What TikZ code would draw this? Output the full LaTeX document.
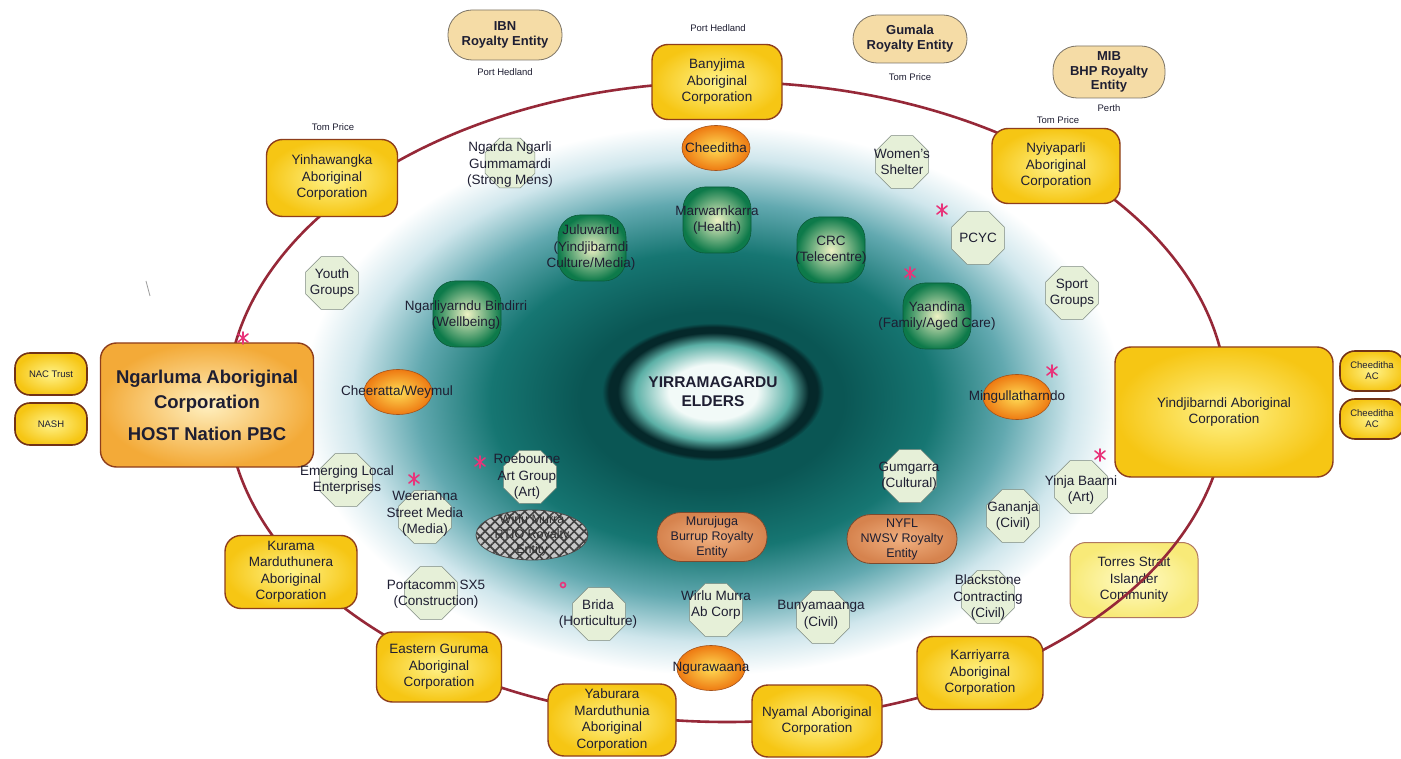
\documentclass[tikz,border=0pt]{standalone}
\usepackage{fontspec}
\setmainfont{Liberation Sans}
\usetikzlibrary{shapes.geometric,patterns.meta}
\definecolor{txt}{HTML}{1E1E32}
\definecolor{ringc}{HTML}{962838}
\definecolor{corpIn}{HTML}{FFF38A}
\definecolor{corpOut}{HTML}{F6C614}
\definecolor{corpBd}{HTML}{8E3E1C}
\definecolor{ngIn}{HTML}{FFF0C0}
\definecolor{ngOut}{HTML}{F3AA38}
\definecolor{torIn}{HTML}{FFFBC8}
\definecolor{torOut}{HTML}{F8EA78}
\definecolor{royFill}{HTML}{F5DCA6}
\definecolor{royBd}{HTML}{7C7466}
\definecolor{octFill}{HTML}{E6F0D8}
\definecolor{octBd}{HTML}{7E8A80}
\definecolor{grnIn}{HTML}{EEF2C4}
\definecolor{grnOut}{HTML}{0D7A4A}
\definecolor{grnBd}{HTML}{0B5B3A}
\definecolor{orIn}{HTML}{FFDC55}
\definecolor{orOut}{HTML}{EE7A12}
\definecolor{orBd}{HTML}{A4521A}
\definecolor{brIn}{HTML}{F0B080}
\definecolor{brOut}{HTML}{D6834E}
\definecolor{brBd}{HTML}{7C4A2E}
\definecolor{pinkm}{HTML}{E8347A}
\definecolor{bgA}{HTML}{0A5654}
\definecolor{bgB}{HTML}{167672}
\definecolor{bgC}{HTML}{62A9B0}
\definecolor{bgD}{HTML}{CFE6EC}
\definecolor{elA}{HTML}{F2FAF8}
\definecolor{elB}{HTML}{5BB0A6}
\definecolor{elC}{HTML}{05282A}
\definecolor{elD}{HTML}{0A5654}
\pgfdeclareradialshading{bgsh}{\pgfpoint{0bp}{0bp}}{color(0bp)=(bgA); color(8bp)=(bgA); color(13.5bp)=(bgB); color(18bp)=(bgC); color(22bp)=(bgD); color(25bp)=(white); color(50bp)=(white)}
\pgfdeclareradialshading{elsh}{\pgfpoint{0bp}{0bp}}{color(0bp)=(elA); color(10bp)=(elA); color(17.5bp)=(elB); color(21.5bp)=(elC); color(23.5bp)=(elC); color(25bp)=(elD); color(50bp)=(elD)}
\newcommand\fsz{\fontsize{13.5}{16.5}\selectfont}
\tikzset{
  base/.style={align=center, text=txt, font=\fsz, inner sep=1pt},
  corp/.style={base, rounded corners=16pt, draw=corpBd, line width=1.4pt, inner color=corpIn, outer color=corpOut},
  roy/.style={base, rounded corners=24pt, draw=royBd, line width=0.8pt, fill=royFill, font=\bfseries\fontsize{13}{15}\selectfont},
  smallpill/.style={base, rounded corners=15pt, draw=corpBd!80!black, line width=1.6pt, inner color=corpIn, outer color=corpOut, font=\fontsize{9.5}{11}\selectfont},
  octo/.style={regular polygon, regular polygon sides=8, draw=octBd, line width=0.6pt, fill=octFill, minimum size=57pt, inner sep=0pt},
  greenb/.style={rounded corners=22pt, draw=grnBd, line width=0.6pt, inner color=grnIn, outer color=grnOut, minimum width=68pt, minimum height=66pt, inner sep=0pt},
  oranb/.style={ellipse, draw=orBd, line width=0.6pt, inner color=orIn, outer color=orOut, minimum width=68pt, minimum height=45pt, inner sep=0pt},
  brownb/.style={base, rounded corners=24pt, draw=brBd, line width=0.8pt, inner color=brIn, outer color=brOut, minimum width=110pt, minimum height=49pt, font=\fontsize{12.5}{15}\selectfont},
  loc/.style={text=txt, font=\fontsize{9.5}{11}\selectfont, inner sep=0pt},
  scrib/.style={pinkm, line width=1.6pt, line cap=round},
}
\newcommand\scribble[1]{\draw[scrib] (#1) +(-5,-4) -- +(5,4) +(-5,4) -- +(5,-4) +(0,-6) -- +(0,6);}
\begin{document}
\begin{tikzpicture}[x=1pt,y=-1pt]
\useasboundingbox (0,0) rectangle (1401,759);
\fill[white] (0,0) rectangle (1401,759);
% background glow
\shade[shading=bgsh] (712,400) ellipse [x radius=410, y radius=275];
% Torres (under the ring)
\node[corp, inner color=torIn, outer color=torOut, draw=corpBd!70, line width=1pt, minimum width=128pt, minimum height=75pt] (torres) at (1134,580) {Torres Strait\\Islander\\Community};
% ring
\draw[ringc, line width=2.6pt] (727,402) ellipse [x radius=500, y radius=320];
% corporations
\node[corp, minimum width=130pt, minimum height=75pt] (banyjima) at (717,82) {Banyjima\\Aboriginal\\Corporation};
\node[corp, minimum width=131pt, minimum height=77pt] (yinha) at (332,178) {Yinhawangka\\Aboriginal\\Corporation};
\node[corp, minimum width=128pt, minimum height=75pt] (nyiya) at (1056,166) {Nyiyaparli\\Aboriginal\\Corporation};
\node[corp, inner color=ngIn, outer color=ngOut, minimum width=213pt, minimum height=124pt, font=\bfseries\fontsize{18.5}{25}\selectfont] (ngarluma) at (207,405) {Ngarluma Aboriginal\\Corporation\\[7pt]HOST Nation PBC};
\node[corp, minimum width=218pt, minimum height=130pt] (yindji) at (1224,412) {Yindjibarndi Aboriginal\\Corporation};
\node[corp, minimum width=132pt, minimum height=73pt] (kurama) at (291,572) {Kurama\\Marduthunera\\Aboriginal\\Corporation};
\node[corp, minimum width=125pt, minimum height=70pt] (eastern) at (439,667) {Eastern Guruma\\Aboriginal\\Corporation};
\node[corp, minimum width=128pt, minimum height=72pt] (yaburara) at (612,720) {Yaburara\\Marduthunia\\Aboriginal\\Corporation};
\node[corp, minimum width=130pt, minimum height=72pt] (nyamal) at (817,721) {Nyamal Aboriginal\\Corporation};
\node[corp, minimum width=126pt, minimum height=73pt] (karri) at (980,673) {Karriyarra\\Aboriginal\\Corporation};
% royalty entities
\node[roy, minimum width=114pt, minimum height=50pt] (ibn) at (505,35) {IBN\\Royalty Entity};
\node[roy, minimum width=114pt, minimum height=48pt] (gumala) at (910,39) {Gumala\\Royalty Entity};
\node[roy, minimum width=112pt, minimum height=52pt, font=\bfseries\fontsize{13}{14.5}\selectfont] (mib) at (1109,72) {MIB\\BHP Royalty\\Entity};
% location labels
\node[loc] (locban) at (718,28) {Port Hedland};
\node[loc] (locibn) at (505,72) {Port Hedland};
\node[loc] (locyin) at (333,127) {Tom Price};
\node[loc] (locgum) at (910,77) {Tom Price};
\node[loc] (locnyi) at (1058,120) {Tom Price};
\node[loc] (locmib) at (1109,108) {Perth};
% small pills
\node[smallpill, minimum width=72pt, minimum height=42pt] (nac) at (51,374) {NAC Trust};
\node[smallpill, minimum width=72pt, minimum height=42pt] (nash) at (51,424) {NASH};
\node[smallpill, minimum width=64pt, minimum height=40pt] (chee1) at (1372,371) {Cheeditha\\AC};
\node[smallpill, minimum width=64pt, minimum height=40pt] (chee2) at (1372,419) {Cheeditha\\AC};
% elders
\node[ellipse, shade, shading=elsh, minimum width=222pt, minimum height=138pt, align=center, text=txt, font=\bfseries\fontsize{15.5}{19}\selectfont] (elders) at (713,392) {YIRRAMAGARDU\\ELDERS};
% green organisations
\node[greenb] (marw) at (717,220) {};
\node[base] (marw-t) at (717,220) {Marwarnkarra\\(Health)};
\node[greenb] (crc) at (831,250) {};
\node[base] (crc-t) at (831,250) {CRC\\(Telecentre)};
\node[greenb] (yaan) at (937,316) {};
\node[base] (yaan-t) at (937,316) {Yaandina\\(Family/Aged Care)};
\node[greenb] (julu) at (592,248) {};
\node[base] (julu-t) at (591,248) {Juluwarlu\\(Yindjibarndi\\Culture/Media)};
\node[greenb] (ngarl) at (467,314) {};
\node[base] (ngarl-t) at (466,315) {Ngarliyarndu Bindirri\\(Wellbeing)};
% orange communities
\node[oranb] (cheed) at (716,148) {};
\node[base] (cheed-t) at (716,148) {Cheeditha};
\node[oranb] (cheer) at (398,392) {};
\node[base] (cheer-t) at (397,392) {Cheeratta/Weymul};
\node[oranb] (ming) at (1017,397) {};
\node[base] (ming-t) at (1017,397) {Mingullatharndo};
\node[oranb] (ngura) at (711,668) {};
\node[base] (ngura-t) at (711,668) {Ngurawaana};
% octagons
\node[octo, minimum size=54pt] (ngarda) at (510,163) {};
\node[base] (ngarda-t) at (510,165) {Ngarda Ngarli\\Gummamardi\\(Strong Mens)};
\node[octo] (women) at (902,162) {};
\node[base] (women-t) at (902,162) {Women's\\Shelter};
\node[octo] (pcyc) at (978,238) {};
\node[base] (pcyc-t) at (978,238) {PCYC};
\node[octo] (sport) at (1072,293) {};
\node[base] (sport-t) at (1072,293) {Sport\\Groups};
\node[octo] (youth) at (332,283) {};
\node[base] (youth-t) at (332,283) {Youth\\Groups};
\node[octo] (emerg) at (346,480) {};
\node[base] (emerg-t) at (347,480) {Emerging Local\\Enterprises};
\node[octo] (weer) at (425,517) {};
\node[base] (weer-t) at (425,514) {Weerianna\\Street Media\\(Media)};
\node[octo] (roeb) at (530,477) {};
\node[base] (roeb-t) at (527,477) {Roebourne\\Art Group\\(Art)};
\node[octo] (gumg) at (910,476) {};
\node[base] (gumg-t) at (909,476) {Gumgarra\\(Cultural)};
\node[octo] (gana) at (1013,516) {};
\node[base] (gana-t) at (1013,516) {Gananja\\(Civil)};
\node[octo] (yinja) at (1081,487) {};
\node[base] (yinja-t) at (1081,490) {Yinja Baarni\\(Art)};
\node[octo] (porta) at (431,593) {};
\node[base] (porta-t) at (436,594) {Portacomm SX5\\(Construction)};
\node[octo] (brida) at (599,614) {};
\node[base] (brida-t) at (598,614) {Brida\\(Horticulture)};
\node[octo] (wirlu) at (716,610) {};
\node[base] (wirlu-t) at (716,605) {Wirlu Murra\\Ab Corp};
\node[octo] (buny) at (823,617) {};
\node[base] (buny-t) at (821,615) {Bunyamaanga\\(Civil)};
\node[octo] (black) at (988,597) {};
\node[base] (black-t) at (988,598) {Blackstone\\Contracting\\(Civil)};
% royalty entities (brown)
\node[brownb] (muru) at (712,537) {Murujuga\\Burrup Royalty\\Entity};
\node[brownb] (nyfl) at (902,539) {NYFL\\NWSV Royalty\\Entity};
% hatched entity
\node[ellipse, minimum width=112pt, minimum height=50pt, draw=black!70, line width=0.8pt,
  preaction={fill=black!22},
  pattern={Lines[angle=45,distance=7pt,line width=1.6pt]}, pattern color=black!75,
  postaction={pattern={Lines[angle=-45,distance=7pt,line width=1.6pt]}, pattern color=black!75}] (hatch) at (532,535) {};
\node[base, font=\fontsize{12.5}{15}\selectfont, text=black!80] (hatch-t) at (532,535) {Wirlu Murra\\RTIO Royalty\\Entity};
% hand marks
\scribble{243,338}
\scribble{942,210}
\scribble{910,273}
\scribble{1052,371}
\scribble{1100,455}
\scribble{480,462}
\scribble{414,479}
\draw[scrib] (563,585) circle (2.5pt);
\draw[black!40, line width=0.8pt] (146,281) -- (150,296);
\end{tikzpicture}
\end{document}
